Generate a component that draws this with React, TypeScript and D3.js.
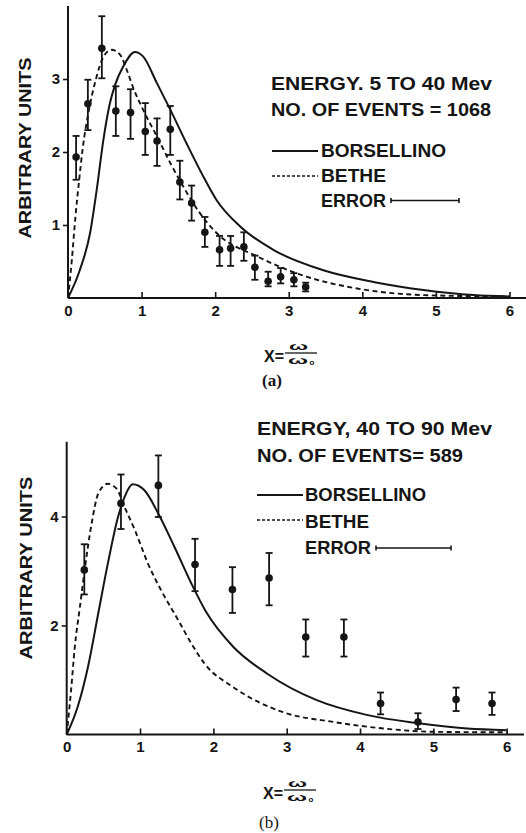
import React, { useEffect, useRef } from 'react';
import * as d3 from 'd3';

type Pt = [number, number];
type Obs = [number, number, number, number]; // x, y, low, high

const xTicks = [0, 1, 2, 3, 4, 5, 6];
const yTicksA = [1, 2, 3];
const yTicksB = [2, 4];

// (a) energy 5 to 40 Mev
const borsellinoA: Pt[] = [
  [0, 0], [0.16, 0.38], [0.3, 0.89], [0.39, 1.48], [0.48, 2.16], [0.57, 2.67],
  [0.64, 2.92], [0.75, 3.17], [0.91, 3.37], [1.02, 3.31], [1.21, 2.94], [1.39, 2.58],
  [1.61, 2.12], [1.82, 1.7], [2.02, 1.34], [2.34, 0.98], [2.79, 0.66], [3.47, 0.38],
  [4.15, 0.22], [4.83, 0.11], [5.51, 0.04], [6.0, 0.02],
];
const betheA: Pt[] = [
  [0, 0], [0.05, 0.5], [0.1, 1.1], [0.15, 1.6], [0.2, 2.05], [0.28, 2.55], [0.38, 3.0],
  [0.48, 3.3], [0.59, 3.4], [0.71, 3.33], [0.8, 3.12], [0.89, 2.87], [1.02, 2.58],
  [1.21, 2.21], [1.39, 1.85], [1.57, 1.52], [1.78, 1.18], [2.02, 0.89], [2.57, 0.57],
  [3.25, 0.29], [3.93, 0.13], [4.83, 0.04], [6.0, 0.02],
];
const eventsA: Obs[] = [
  [0.11, 1.93, 1.62, 2.22], [0.27, 2.66, 2.3, 2.99], [0.46, 3.42, 3.01, 3.86],
  [0.65, 2.56, 2.22, 2.9], [0.85, 2.54, 2.18, 2.86], [1.05, 2.28, 1.96, 2.67],
  [1.21, 2.15, 1.81, 2.46], [1.39, 2.31, 1.96, 2.63], [1.52, 1.59, 1.35, 1.88],
  [1.68, 1.3, 1.06, 1.54], [1.86, 0.9, 0.7, 1.11], [2.06, 0.66, 0.44, 0.85],
  [2.21, 0.68, 0.44, 0.85], [2.39, 0.7, 0.51, 0.9], [2.54, 0.42, 0.25, 0.58],
  [2.72, 0.23, 0.16, 0.36], [2.89, 0.29, 0.2, 0.41], [3.07, 0.25, 0.16, 0.34],
  [3.23, 0.15, 0.09, 0.21],
];

// (b) energy 40 to 90 Mev
const borsellinoB: Pt[] = [
  [0, 0], [0.15, 0.51], [0.29, 1.24], [0.43, 2.22], [0.56, 3.13], [0.7, 3.99],
  [0.79, 4.36], [0.9, 4.59], [1.06, 4.48], [1.25, 4.05], [1.47, 3.44], [1.7, 2.77],
  [1.9, 2.25], [2.27, 1.61], [2.73, 1.12], [3.41, 0.63], [4.09, 0.36], [4.77, 0.21],
  [5.46, 0.11], [6.0, 0.08],
];
const betheB: Pt[] = [
  [0, 0], [0.06, 0.82], [0.11, 1.6], [0.18, 2.34], [0.25, 3.07], [0.34, 3.87],
  [0.43, 4.42], [0.56, 4.6], [0.68, 4.51], [0.79, 4.17], [0.93, 3.75], [1.11, 3.13],
  [1.29, 2.64], [1.52, 2.1], [1.7, 1.67], [1.88, 1.3], [2.27, 0.87], [2.95, 0.41],
  [3.64, 0.23], [4.32, 0.11], [5.0, 0.05], [6.0, 0.04],
];
const eventsB: Obs[] = [
  [0.24, 3.02, 2.57, 3.49], [0.74, 4.24, 3.77, 4.77], [1.25, 4.57, 3.99, 5.12],
  [1.75, 3.12, 2.63, 3.59], [2.26, 2.66, 2.23, 3.07], [2.76, 2.87, 2.37, 3.33],
  [3.26, 1.79, 1.43, 2.11], [3.78, 1.79, 1.43, 2.11], [4.28, 0.57, 0.37, 0.77],
  [4.79, 0.23, 0.1, 0.39], [5.31, 0.64, 0.43, 0.86], [5.8, 0.57, 0.36, 0.77],
];

const ink = '#151515';
const sans = '"Liberation Sans", Arial, sans-serif';
const serif = '"Liberation Serif", "Times New Roman", serif';

const drawPanel = (svg, c) => {
  const x = d3.scaleLinear().domain([0, 6]).range(c.xRange);
  const y = d3.scaleLinear().domain([0, c.yMax]).range(c.yRange);
  const g = svg.append('g');

  // axis lines
  g.append('line')
    .attr('x1', x(0)).attr('x2', c.xEnd).attr('y1', y(0)).attr('y2', y(0))
    .attr('stroke', ink).attr('stroke-width', 2);
  g.append('line')
    .attr('x1', x(0)).attr('x2', x(0)).attr('y1', y(0)).attr('y2', y(c.yMax))
    .attr('stroke', ink).attr('stroke-width', 2);

  const xa = g.append('g')
    .attr('transform', `translate(0,${y(0)})`)
    .call(d3.axisBottom(x).tickValues(xTicks).tickSize(-6).tickPadding(7).tickFormat(d3.format('d')));
  const ya = g.append('g')
    .attr('transform', `translate(${x(0)},0)`)
    .call(d3.axisLeft(y).tickValues(c.yTicks).tickSize(5).tickPadding(3).tickFormat(d3.format('d')));
  [xa, ya].forEach(a => {
    a.select('.domain').remove();
    a.selectAll('.tick line').attr('stroke', ink).attr('stroke-width', 1.6);
    a.selectAll('text')
      .attr('fill', ink).attr('font-family', sans).attr('font-size', 15).attr('font-weight', 'bold');
  });

  // theory curves
  const line = d3.line<Pt>().x(d => x(d[0])).y(d => y(d[1])).curve(d3.curveMonotoneX);
  g.append('path').datum(c.borsellino).attr('d', line)
    .attr('fill', 'none').attr('stroke', ink).attr('stroke-width', 2);
  g.append('path').datum(c.bethe).attr('d', line)
    .attr('fill', 'none').attr('stroke', ink).attr('stroke-width', 1.9).attr('stroke-dasharray', '5,3.5');

  // measured points with error bars
  const obs = g.selectAll('.obs').data(c.events).enter().append('g').attr('class', 'obs');
  obs.append('line')
    .attr('x1', d => x(d[0])).attr('x2', d => x(d[0]))
    .attr('y1', d => y(d[2])).attr('y2', d => y(d[3]))
    .attr('stroke', ink).attr('stroke-width', 1.8);
  [2, 3].forEach(k => {
    obs.append('line')
      .attr('x1', d => x(d[0]) - 3.5).attr('x2', d => x(d[0]) + 3.5)
      .attr('y1', d => y(d[k])).attr('y2', d => y(d[k]))
      .attr('stroke', ink).attr('stroke-width', 1.8);
  });
  obs.append('circle')
    .attr('cx', d => x(d[0])).attr('cy', d => y(d[1])).attr('r', 3.8).attr('fill', ink);

  // y label
  g.append('text')
    .attr('transform', `translate(${c.yLabel[0]},${c.yLabel[1]}) rotate(-90)`)
    .attr('text-anchor', 'middle').attr('dy', '0.36em')
    .attr('font-family', sans).attr('font-size', 17).attr('font-weight', 'bold').attr('fill', ink)
    .attr('textLength', c.yLabel[2]).attr('lengthAdjust', 'spacingAndGlyphs')
    .text('ARBITRARY  UNITS');

  // legend block
  const txt = (s, tx, ty, len) => g.append('text')
    .attr('x', tx).attr('y', ty).attr('fill', ink)
    .attr('font-family', sans).attr('font-size', 17.5).attr('font-weight', 'bold')
    .attr('textLength', len).attr('lengthAdjust', 'spacingAndGlyphs')
    .text(s);
  c.legend.forEach(t => txt(t[0], t[1], t[2], t[3]));
  const L = c.keys;
  g.append('line').attr('x1', L.lx0).attr('x2', L.lx1).attr('y1', L.solidY).attr('y2', L.solidY)
    .attr('stroke', ink).attr('stroke-width', 1.8);
  g.append('line').attr('x1', L.lx0).attr('x2', L.lx1).attr('y1', L.dashY).attr('y2', L.dashY)
    .attr('stroke', ink).attr('stroke-width', 1.6).attr('stroke-dasharray', '3,2');
  g.append('line').attr('x1', L.ex0).attr('x2', L.ex1).attr('y1', L.errY).attr('y2', L.errY)
    .attr('stroke', ink).attr('stroke-width', 1.6);
  [L.ex0, L.ex1].forEach(ex => {
    g.append('line').attr('x1', ex).attr('x2', ex).attr('y1', L.errY - 2.5).attr('y2', L.errY + 2.5)
      .attr('stroke', ink).attr('stroke-width', 1.6);
  });

  // x label: X = w / w0
  const f = c.frac;
  g.append('text').attr('x', f.x).attr('y', f.base).attr('fill', ink)
    .attr('font-family', sans).attr('font-size', 16).attr('font-weight', 'bold').text('X=');
  g.append('text').attr('x', f.x + 25).attr('y', f.base - 12).attr('fill', ink)
    .attr('font-family', sans).attr('font-size', 11).attr('font-weight', 'bold')
    .attr('textLength', 19).attr('lengthAdjust', 'spacingAndGlyphs').text('ω');
  g.append('line').attr('x1', f.x + 21).attr('x2', f.x + 53)
    .attr('y1', f.base - 9).attr('y2', f.base - 9).attr('stroke', ink).attr('stroke-width', 1.3);
  g.append('text').attr('x', f.x + 24).attr('y', f.base + 1.5).attr('fill', ink)
    .attr('font-family', sans).attr('font-size', 11).attr('font-weight', 'bold')
    .attr('textLength', 20).attr('lengthAdjust', 'spacingAndGlyphs').text('ω');
  g.append('text').attr('x', f.x + 45.5).attr('y', f.base + 2.5).attr('fill', ink)
    .attr('font-family', sans).attr('font-size', 8).attr('font-weight', 'bold').text('o');

  g.append('text').attr('x', c.tag[0]).attr('y', c.tag[1]).attr('fill', ink)
    .attr('text-anchor', 'middle')
    .attr('font-family', serif).attr('font-size', 17).attr('font-weight', c.tag[3])
    .text(c.tag[2]);
};

const App = () => {
  const svgRef = useRef(null);

  useEffect(() => {
    const svg = d3.select(svgRef.current);
    svg.selectAll('*').remove();
    svg.append('rect').attr('width', 526).attr('height', 833).attr('fill', '#fff');

    drawPanel(svg, {
      xRange: [68, 509.5], yRange: [298, 6], yMax: 4, xEnd: 526, yTicks: yTicksA,
      borsellino: borsellinoA, bethe: betheA, events: eventsA,
      yLabel: [25, 148, 181],
      legend: [
        ['ENERGY. 5  TO  40  Mev', 271, 90, 221],
        ['NO. OF  EVENTS = 1068', 271, 116, 220],
        ['BORSELLINO', 321, 157, 125],
        ['BETHE', 321, 182, 65],
        ['ERROR', 321, 207, 65],
      ],
      keys: { lx0: 272, lx1: 318, solidY: 151, dashY: 176, ex0: 391, ex1: 459, errY: 200.5 },
      frac: { x: 264, base: 362 },
      tag: [272, 386, '(a)', 'bold'],
    });

    drawPanel(svg, {
      xRange: [66.7, 506.7], yRange: [734.5, 441.8], yMax: 5.37, xEnd: 524, yTicks: yTicksB,
      borsellino: borsellinoB, bethe: betheB, events: eventsB,
      yLabel: [25.5, 568, 183],
      legend: [
        ['ENERGY,  40  TO  90 Mev', 257, 435, 235],
        ['NO. OF  EVENTS= 589', 257, 462, 206],
        ['BORSELLINO', 305, 501, 121],
        ['BETHE', 305, 528, 64],
        ['ERROR', 305, 554, 66],
      ],
      keys: { lx0: 257, lx1: 303, solidY: 495, dashY: 520, ex0: 376, ex1: 451, errY: 548 },
      frac: { x: 263, base: 799 },
      tag: [269, 828, '(b)', 'normal'],
    });

    return () => {
      d3.select(svgRef.current).selectAll('*').remove();
    };
  }, []);

  return (
    <svg ref={svgRef} width={526} height={833}
      style={{ position: 'absolute', left: 0, top: 0, display: 'block' }} />
  );
};

export default App;
